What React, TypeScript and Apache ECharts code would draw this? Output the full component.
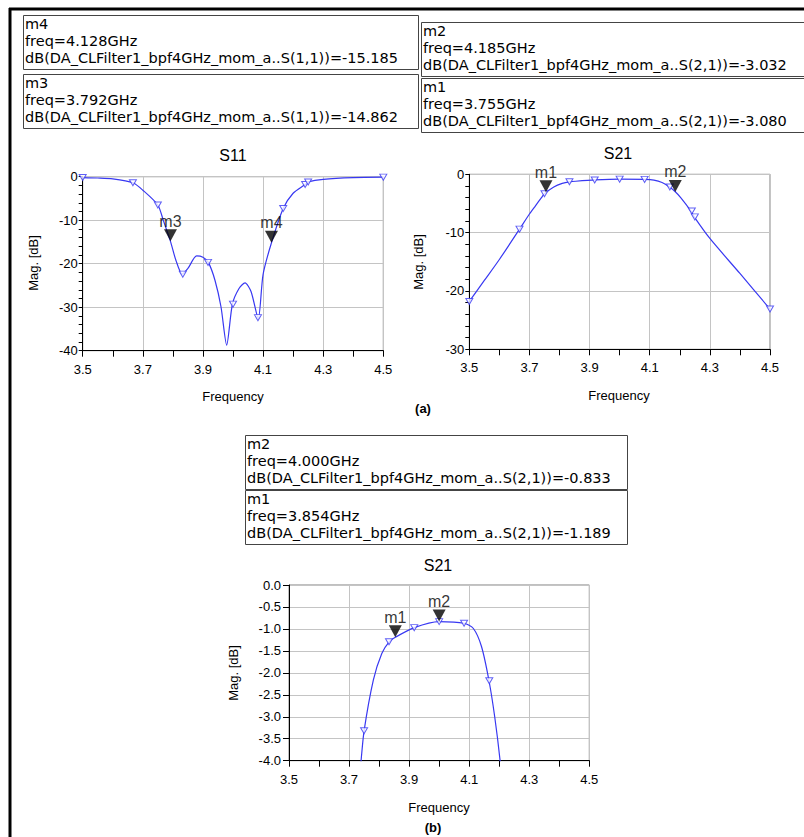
import React, { useEffect, useRef } from "react";
import * as echarts from "echarts";

// ---------- data ----------
const xTicks = [3.5, 3.7, 3.9, 4.1, 4.3, 4.5];

const s11Freq = [3.5, 3.55, 3.6, 3.667, 3.7, 3.75, 3.768, 3.792, 3.81, 3.831, 3.85, 3.879, 3.9, 3.918, 3.94, 3.96, 3.979, 3.998, 4.02, 4.04, 4.06, 4.084, 4.1, 4.128, 4.167, 4.2, 4.24, 4.25, 4.3, 4.4, 4.5];
const s11Db = [-0.2, -0.3, -0.5, -1.4, -3.1, -6.5, -10.0, -14.86, -19.2, -22.4, -21.1, -18.2, -18.5, -19.7, -23.8, -29.9, -38.7, -29.3, -25.7, -24.4, -26.4, -32.6, -22.5, -15.19, -7.3, -3.8, -1.8, -1.2, -0.6, -0.2, -0.1];
const s11SampleFreq = [3.5, 3.667, 3.75, 3.833, 3.917, 4.0, 4.083, 4.167, 4.24, 4.25, 4.5];
const s11SampleDb = [-0.2, -1.4, -6.5, -22.4, -19.7, -29.3, -32.4, -7.3, -1.8, -1.2, -0.1];

const s21Freq = [3.5, 3.55, 3.6, 3.667, 3.7, 3.72, 3.74, 3.75, 3.781, 3.809, 3.834, 3.854, 3.917, 4.0, 4.083, 4.114, 4.141, 4.166, 4.185, 4.203, 4.237, 4.248, 4.3, 4.4, 4.5];
const s21Db = [-21.8, -18.2, -14.6, -9.4, -6.8, -5.4, -4.0, -3.32, -2.16, -1.56, -1.29, -1.19, -0.97, -0.833, -0.87, -0.99, -1.4, -2.18, -3.0, -4.0, -6.3, -7.3, -11.0, -17.0, -23.1];
const s21SampleFreq = [3.5, 3.667, 3.75, 3.833, 3.917, 4.0, 4.083, 4.167, 4.24, 4.25, 4.5];
const s21SampleDb = [-21.8, -9.4, -3.32, -1.29, -0.97, -0.833, -0.87, -2.18, -6.3, -7.3, -23.1];

// markers
const aS11Names = ["m4", "m3"];
const aS11Freq = [4.128, 3.792];
const aS11Db = [-15.185, -14.862];
const aS21Names = ["m2", "m1"];
const aS21Freq = [4.185, 3.755];
const aS21Db = [-3.032, -3.08];
const bS21Names = ["m2", "m1"];
const bS21Freq = [4.0, 3.854];
const bS21Db = [-0.833, -1.189];

const FONT = "'Liberation Sans', Arial, Helvetica, sans-serif";
const BOXFONT = "'DejaVu Sans', Verdana, sans-serif";
const LINE = "#3838f2";
const GRIDC = "#c4c4c4";

function zip(a: number[], b: number[]) {
  return a.map((v, i) => [v, b[i]]);
}

function text(x: number, y: number, t: string, size: number, extra: any = {}) {
  return {
    type: "text",
    x,
    y,
    rotation: extra.rotation || 0,
    z: 100,
    style: {
      text: t,
      fontSize: size,
      fontFamily: extra.family || FONT,
      fontWeight: extra.bold ? "bold" : "normal",
      fill: "#000",
      align: extra.align || "left",
      verticalAlign: "middle",
      textAlign: extra.align || "left",
      textVerticalAlign: "middle",
    },
  };
}

function box(x: number, y: number, w: number, name: string, f: number, v: number, sp: string) {
  const o = { family: BOXFONT };
  return [
    {
      type: "rect",
      shape: { x: x + 0.5, y: y + 0.5, width: w, height: 54 },
      style: { fill: "none", stroke: "#444", lineWidth: 1 },
      z: 90,
    },
    text(x + 2, y + 9, name, 14.5, o),
    text(x + 2, y + 26, `freq=${f.toFixed(3)}GHz`, 14.5, o),
    text(x + 2, y + 43, `dB(DA_CLFilter1_bpf4GHz_mom_a..S(${sp}))=${v.toFixed(3)}`, 14.5, o),
  ];
}

function xAxisCfg(gi: number) {
  return {
    type: "value",
    gridIndex: gi,
    min: 3.5,
    max: 4.5,
    interval: 0.2,
    axisLine: { show: true, onZero: false, lineStyle: { color: "#000", width: 1 } },
    axisTick: { show: true, inside: false, length: 6, lineStyle: { color: "#000" } },
    minorTick: { show: true, splitNumber: 2, length: 6, lineStyle: { color: "#000" } },
    splitLine: { show: true, lineStyle: { color: GRIDC, width: 1 } },
    axisLabel: {
      fontSize: 13,
      fontFamily: FONT,
      color: "#000",
      margin: 12,
      formatter: (v: number) => v.toFixed(1),
      customValues: xTicks,
    },
  };
}

function yAxisCfg(gi: number, min: number, interval: number, minor: boolean, dec: number, tickLen: number, margin: number) {
  return {
    type: "value",
    gridIndex: gi,
    min,
    max: 0,
    interval,
    axisLine: { show: true, onZero: false, lineStyle: { color: "#000", width: 1 } },
    axisTick: { show: true, inside: false, length: tickLen, lineStyle: { color: "#000" } },
    minorTick: { show: minor, splitNumber: 5, length: tickLen, lineStyle: { color: "#000" } },
    splitLine: { show: true, lineStyle: { color: GRIDC, width: 1 } },
    axisLabel: {
      fontSize: 13,
      fontFamily: FONT,
      color: "#000",
      margin,
      formatter: (v: number) => v.toFixed(dec),
    },
  };
}

function seriesFor(gi: number, fr: number[], db: number[], sf: number[], sd: number[], mn: string[], mf: number[], md: number[]) {
  return [
    {
      type: "line",
      xAxisIndex: gi,
      yAxisIndex: gi,
      data: zip(fr, db),
      showSymbol: false,
      smooth: 0.25,
      clip: true,
      lineStyle: { color: LINE, width: 1.2 },
      z: 3,
    },
    {
      type: "scatter",
      xAxisIndex: gi,
      yAxisIndex: gi,
      data: zip(sf, sd),
      symbol: "path://M0,0L10,0L5,8Z",
      symbolSize: [7, 6],
      clip: true,
      itemStyle: { color: "#fff", borderColor: LINE, borderWidth: 1 },
      z: 4,
    },
    {
      type: "scatter",
      xAxisIndex: gi,
      yAxisIndex: gi,
      data: mn.map((n, i) => ({ name: n, value: [mf[i], md[i]] })),
      symbol: "path://M0,0L14,0L7,12Z",
      symbolSize: [13, 12],
      symbolOffset: [0, "-50%"],
      itemStyle: { color: "#000" },
      label: {
        show: true,
        position: "top",
        distance: 0,
        formatter: (p: any) => p.name,
        fontSize: 16,
        fontFamily: FONT,
        color: "#000",
      },
      z: 5,
    },
  ];
}

export default function App() {
  const ref = useRef<HTMLDivElement>(null);
  useEffect(() => {
    if (!ref.current) return;
    const chart = echarts.init(ref.current, undefined, { renderer: "svg" });
    const graphic: any[] = [
      // outer frame (top & left edges)
      { type: "line", shape: { x1: 9, y1: 9, x2: 804, y2: 9 }, style: { stroke: "#000", lineWidth: 3 }, z: 100 },
      { type: "line", shape: { x1: 10, y1: 8, x2: 10, y2: 837 }, style: { stroke: "#000", lineWidth: 3 }, z: 100 },
      ...box(23, 15, 395, aS11Names[0], aS11Freq[0], aS11Db[0], "1,1"),
      ...box(23, 74, 395, aS11Names[1], aS11Freq[1], aS11Db[1], "1,1"),
      ...box(421, 22, 420, aS21Names[0], aS21Freq[0], aS21Db[0], "2,1"),
      ...box(421, 78, 420, aS21Names[1], aS21Freq[1], aS21Db[1], "2,1"),
      ...box(245, 435, 382, bS21Names[0], bS21Freq[0], bS21Db[0], "2,1"),
      ...box(245, 490, 382, bS21Names[1], bS21Freq[1], bS21Db[1], "2,1"),
      text(233, 155, "S11", 16, { align: "center" }),
      text(618, 153, "S21", 16, { align: "center" }),
      text(438, 565, "S21", 16, { align: "center" }),
      text(233, 396, "Frequency", 13, { align: "center" }),
      text(619, 395, "Frequency", 13, { align: "center" }),
      text(439, 807, "Frequency", 13, { align: "center" }),
      text(33, 263, "Mag. [dB]", 13, { align: "center", rotation: Math.PI / 2 }),
      text(418, 262, "Mag. [dB]", 13, { align: "center", rotation: Math.PI / 2 }),
      text(233, 673, "Mag. [dB]", 13, { align: "center", rotation: Math.PI / 2 }),
      text(423, 408, "(a)", 13, { align: "center", bold: true }),
      text(433, 827, "(b)", 13, { align: "center", bold: true }),
    ];
    chart.setOption({
      animation: false,
      backgroundColor: "#fff",
      grid: [
        { left: 82.7, top: 176.7, width: 300.6, height: 174, show: true, borderColor: "#808080", borderWidth: 1, backgroundColor: "transparent" },
        { left: 469.3, top: 174.3, width: 300.7, height: 175, show: true, borderColor: "#808080", borderWidth: 1, backgroundColor: "transparent" },
        { left: 289, top: 585, width: 300.3, height: 175.7, show: true, borderColor: "#808080", borderWidth: 1, backgroundColor: "transparent" },
      ],
      xAxis: [xAxisCfg(0), xAxisCfg(1), xAxisCfg(2)],
      yAxis: [
        yAxisCfg(0, -40, 10, true, 0, 4, 5),
        yAxisCfg(1, -30, 10, true, 0, 4, 5),
        yAxisCfg(2, -4, 0.5, false, 1, 6, 8),
      ],
      series: [
        ...seriesFor(0, s11Freq, s11Db, s11SampleFreq, s11SampleDb, aS11Names, aS11Freq, aS11Db),
        ...seriesFor(1, s21Freq, s21Db, s21SampleFreq, s21SampleDb, aS21Names, aS21Freq, aS21Db),
        ...seriesFor(2, s21Freq, s21Db, s21SampleFreq, s21SampleDb, bS21Names, bS21Freq, bS21Db),
      ],
      graphic,
    });
    return () => chart.dispose();
  }, []);
  return (
    <div
      ref={ref}
      style={{ position: "fixed", left: 0, top: 0, width: 804, height: 837, background: "#fff" }}
    />
  );
}
